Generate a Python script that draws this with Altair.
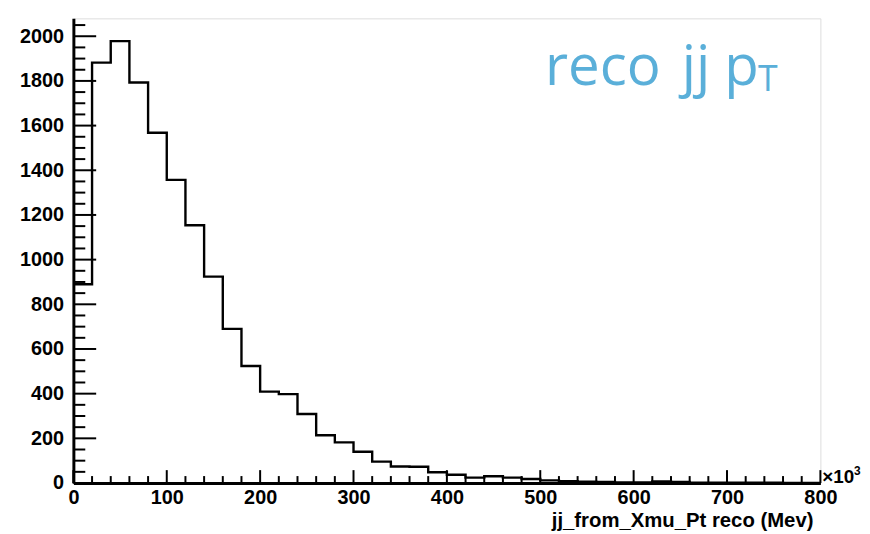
import altair as alt
import pandas as pd

# Histogram of reco jj pT (x in units of 10^3 MeV), 40 bins of width 20
bin_edges = list(range(0, 800, 20))
counts = [890, 1882, 1978, 1793, 1568, 1357, 1154, 924, 690, 524,
          409, 398, 309, 214, 182, 140, 96, 74, 73, 48,
          37, 24, 30, 24, 18, 12, 8, 6, 5, 3,
          3, 7, 5, 2, 2, 1, 1, 1, 0, 0]
x_max = 800
y_max = 2080

x_labels = list(range(0, 801, 100))
x_minor = [v for v in range(0, 801, 20) if v % 100 != 0]
y_labels = list(range(0, 2001, 200))
y_minor = [v for v in range(0, 2051, 50) if v % 200 != 0]

W, H = 754, 469
FONT = "Liberation Sans"
BLUE = "#5aafd9"

hist = pd.DataFrame({
    "x": bin_edges + [x_max],
    "y": counts + [counts[-1]],
    "i": list(range(len(bin_edges) + 1)),
})

xs = alt.Scale(domain=[0, x_max], nice=False, zero=False)
ys = alt.Scale(domain=[0, y_max], nice=False, zero=False)
xaxis = alt.Axis(values=x_labels, title=None, grid=False, ticks=False, tickSize=0,
                 labelFont=FONT, labelFontSize=20, labelFontWeight="bold",
                 labelColor="black", labelPadding=5, labelFlush=False,
                 domainColor="black", domainWidth=3, format="d")
yaxis = alt.Axis(values=y_labels, title=None, grid=False, ticks=False, tickSize=0,
                 labelFont=FONT, labelFontSize=20, labelFontWeight="bold",
                 labelColor="black", labelPadding=10, labelFlush=False,
                 domainColor="black", domainWidth=3, format="d")

def X():
    return alt.X("x:Q", scale=xs, axis=xaxis)

def Y():
    return alt.Y("y:Q", scale=ys, axis=yaxis)

line = alt.Chart(hist).mark_line(interpolate="step-after", color="black",
                                  strokeWidth=2.4).encode(
    x=X(), y=Y(), order="i:Q")

def xticks(vals, length):
    return alt.Chart(pd.DataFrame({"x": vals})).mark_rule(
        color="black", strokeWidth=2).encode(
        x=X(), y=alt.value(H), y2=alt.value(H - length))

def yticks(vals, length):
    return alt.Chart(pd.DataFrame({"y": vals})).mark_rule(
        color="black", strokeWidth=2).encode(
        y=Y(), x=alt.value(0), x2=alt.value(length))

one = pd.DataFrame({"a": [0]})

def label(text, px, py, size, color="black", weight="bold", font=FONT, align="left"):
    return alt.Chart(one).mark_text(
        text=text, font=font, fontSize=size, fontWeight=weight, color=color,
        align=align, baseline="alphabetic").encode(
        x=alt.value(px), y=alt.value(py))

texts = [
    label("jj_from_Xmu_Pt reco (Mev)", 747, 513, 20.5, align="right"),
    label("×10", 756, 469, 19),
    label("3", 788, 461, 12),
    label("reco", 476, 67, 57, color=BLUE, weight="normal", font="Open Sans"),
    label("jj", 614, 67, 57, color=BLUE, weight="normal", font="Open Sans"),
    label("p", 657, 67, 57, color=BLUE, weight="normal", font="Open Sans"),
    label("T", 691, 73, 36, color=BLUE, weight="normal", font="Open Sans"),
]

chart = alt.layer(
    line,
    xticks(x_labels, 13), xticks(x_minor, 7),
    yticks(y_labels, 23), yticks(y_minor, 12),
    *texts,
).properties(
    width=W, height=H,
    autosize=alt.AutoSizeParams(type="none"),
    padding={"left": 66, "top": 8, "right": 42, "bottom": 49},
).configure_view(stroke="black", strokeWidth=2).configure(background="white")

chart.save("out.html", embed_options={"renderer": "svg", "actions": False})
